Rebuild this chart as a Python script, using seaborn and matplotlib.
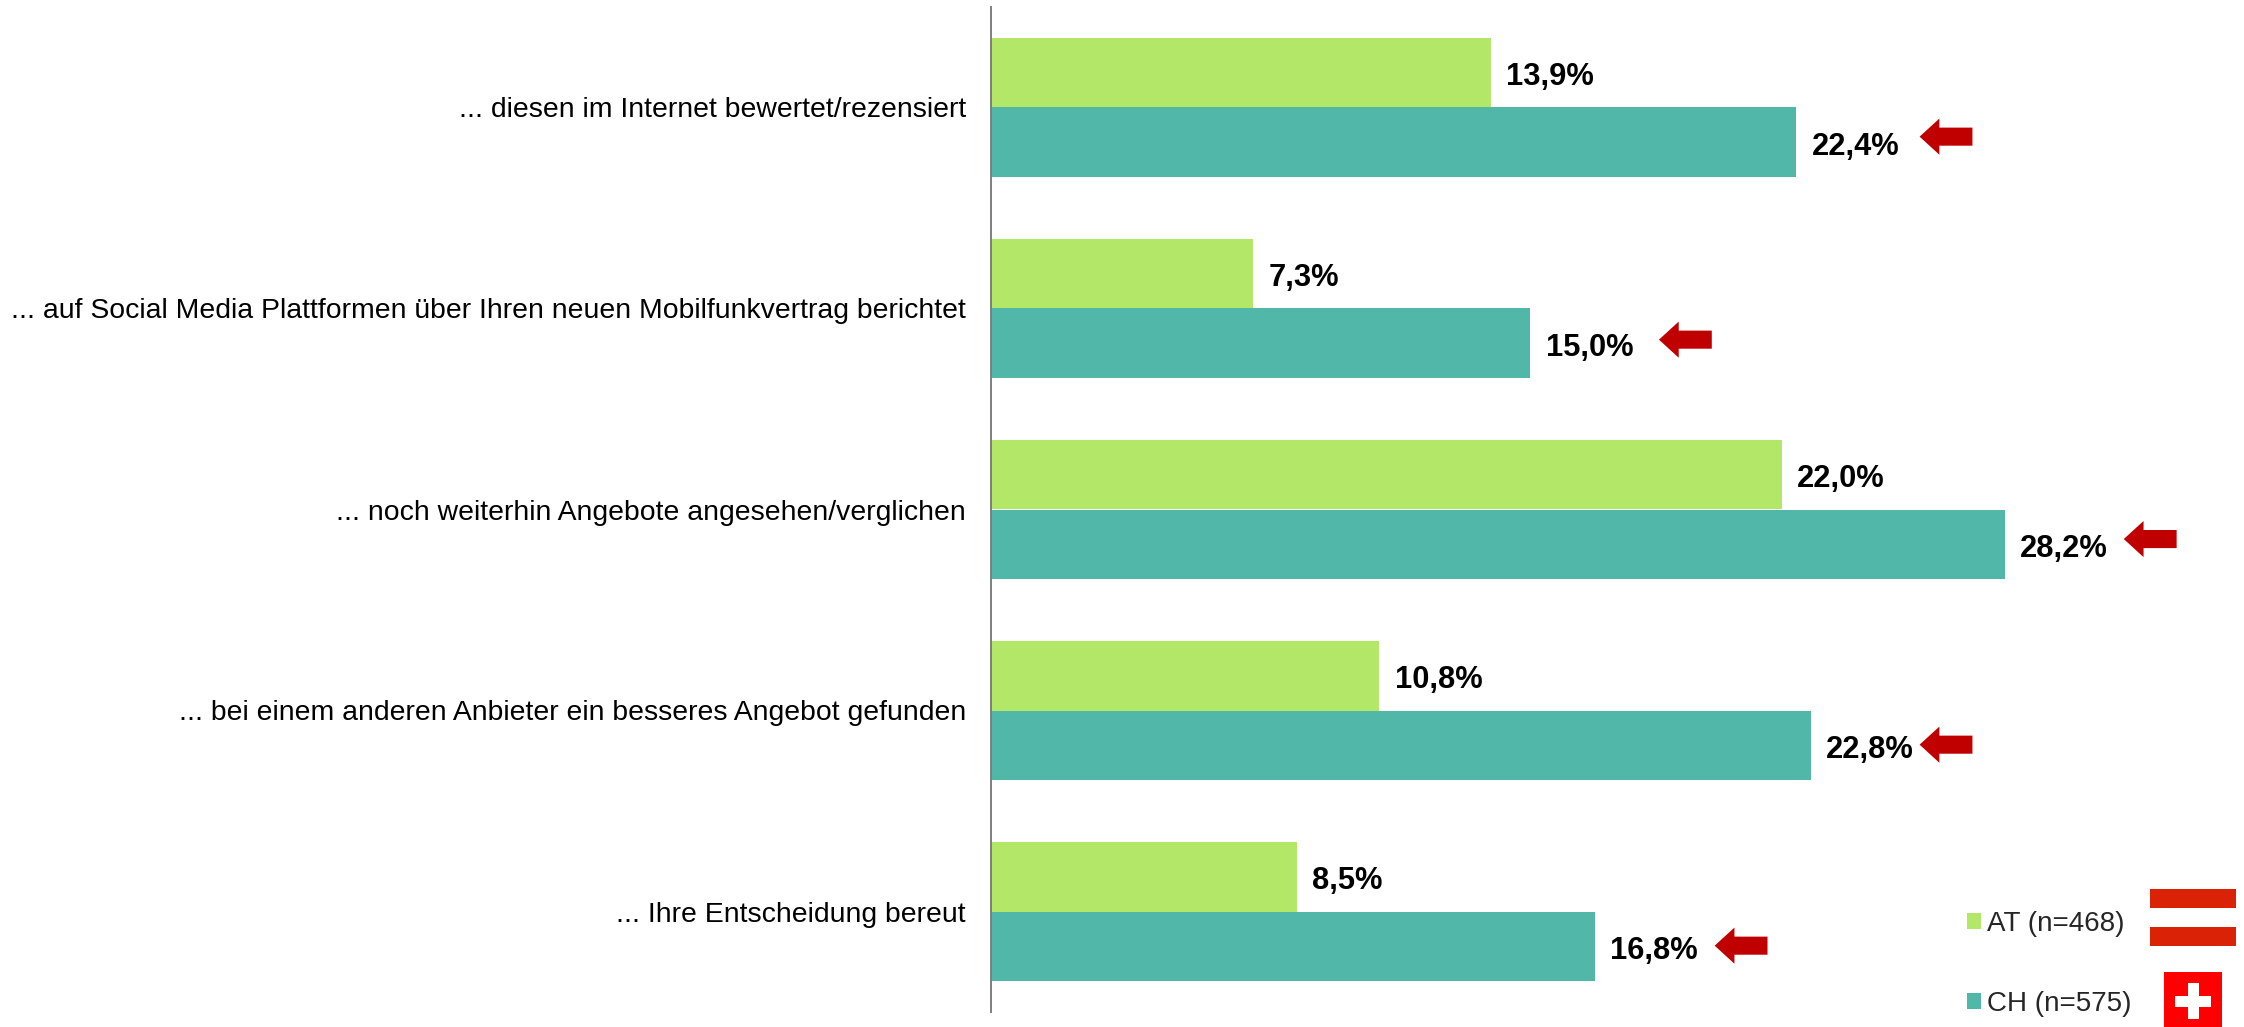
import matplotlib
matplotlib.use("Agg")
import matplotlib.pyplot as plt
from matplotlib.patches import FancyArrow, Rectangle
import pandas as pd
import seaborn as sns

categories = [
    "... diesen im Internet bewertet/rezensiert",
    "... auf Social Media Plattformen über Ihren neuen Mobilfunkvertrag berichtet",
    "... noch weiterhin Angebote angesehen/verglichen",
    "... bei einem anderen Anbieter ein besseres Angebot gefunden",
    "... Ihre Entscheidung bereut",
]
at_values = [13.9, 7.3, 22.0, 10.8, 8.5]
ch_values = [22.4, 15.0, 28.2, 22.8, 16.8]
series_names = ["AT (n=468)", "CH (n=575)"]
arrow_tips = [25.83, 18.58, 31.51, 25.83, 20.13]
arrow_offsets = [0.145, 0.155, 0.147, 0.17, 0.17]

W, H = 2244, 1027
sns.set_theme(style="white")
plt.rcParams["font.family"] = ["Liberation Sans", "DejaVu Sans"]

df = pd.DataFrame({
    "Kategorie": categories * 2,
    "Anteil": at_values + ch_values,
    "Gruppe": [series_names[0]] * 5 + [series_names[1]] * 5,
})

fig = plt.figure(figsize=(W / 100, H / 100), dpi=100, facecolor="white")
ax = fig.add_axes([991 / W, 1 - 1012 / H, 1253 / W, 1005 / H])
sns.barplot(
    data=df, y="Kategorie", x="Anteil", hue="Gruppe", ax=ax, orient="h",
    palette=["#B2E768", "#51B8A9"], width=0.695, gap=0, saturation=1, errorbar=None,
    linewidth=0, edgecolor="none",
)
ax.set_xlim(0, 1253 / 35.95)
ax.set_ylim(4.5, -0.5)
ax.set_xlabel("")
ax.set_ylabel("")
ax.set_xticks([])
ax.patch.set_alpha(0)
for s in ["top", "right", "bottom"]:
    ax.spines[s].set_visible(False)
ax.spines["left"].set_color("#7F7F7F")
ax.spines["left"].set_linewidth(1.4)
ax.tick_params(axis="y", length=0, pad=18, labelsize=20.4, labelcolor="black")

for container in ax.containers[:2]:
    anns = ax.bar_label(
        container,
        labels=[f"{v:.1f}%".replace(".", ",") for v in container.datavalues],
        padding=11, fontsize=22.2, fontweight="bold", color="black",
    )
    for a in anns:
        a.xyann = (a.xyann[0], -3)

for i, (tip, off) in enumerate(zip(arrow_tips, arrow_offsets)):
    ax.add_patch(FancyArrow(
        tip + 1.47, i + off, -1.47, 0, width=0.09, head_width=0.18, head_length=0.55,
        length_includes_head=True, color="#C00000", linewidth=0,
    ))

handles, labels = ax.get_legend_handles_labels()
ax.legend(
    handles, labels, loc="upper left", bbox_to_anchor=(1967 / W, 1 - 911 / H),
    bbox_transform=fig.transFigure, frameon=False, fontsize=20,
    handlelength=0.5, handleheight=0.5, handletextpad=0.22, labelspacing=1.95,
    borderpad=0, borderaxespad=0,
)


def pixel_rect(x0, y0, x1, y1, color):
    fig.add_artist(Rectangle(
        (x0 / W, 1 - y1 / H), (x1 - x0) / W, (y1 - y0) / H,
        transform=fig.transFigure, facecolor=color, edgecolor="none",
    ))


pixel_rect(2150, 889, 2236, 908, "#D92206")
pixel_rect(2150, 927, 2236, 946, "#D92206")
pixel_rect(2164, 972, 2222, 1027, "#FF0000")
pixel_rect(2175, 996, 2211, 1007, "white")
pixel_rect(2188, 983, 2199, 1019, "white")

fig.savefig("out.png", dpi=100, facecolor="white")
